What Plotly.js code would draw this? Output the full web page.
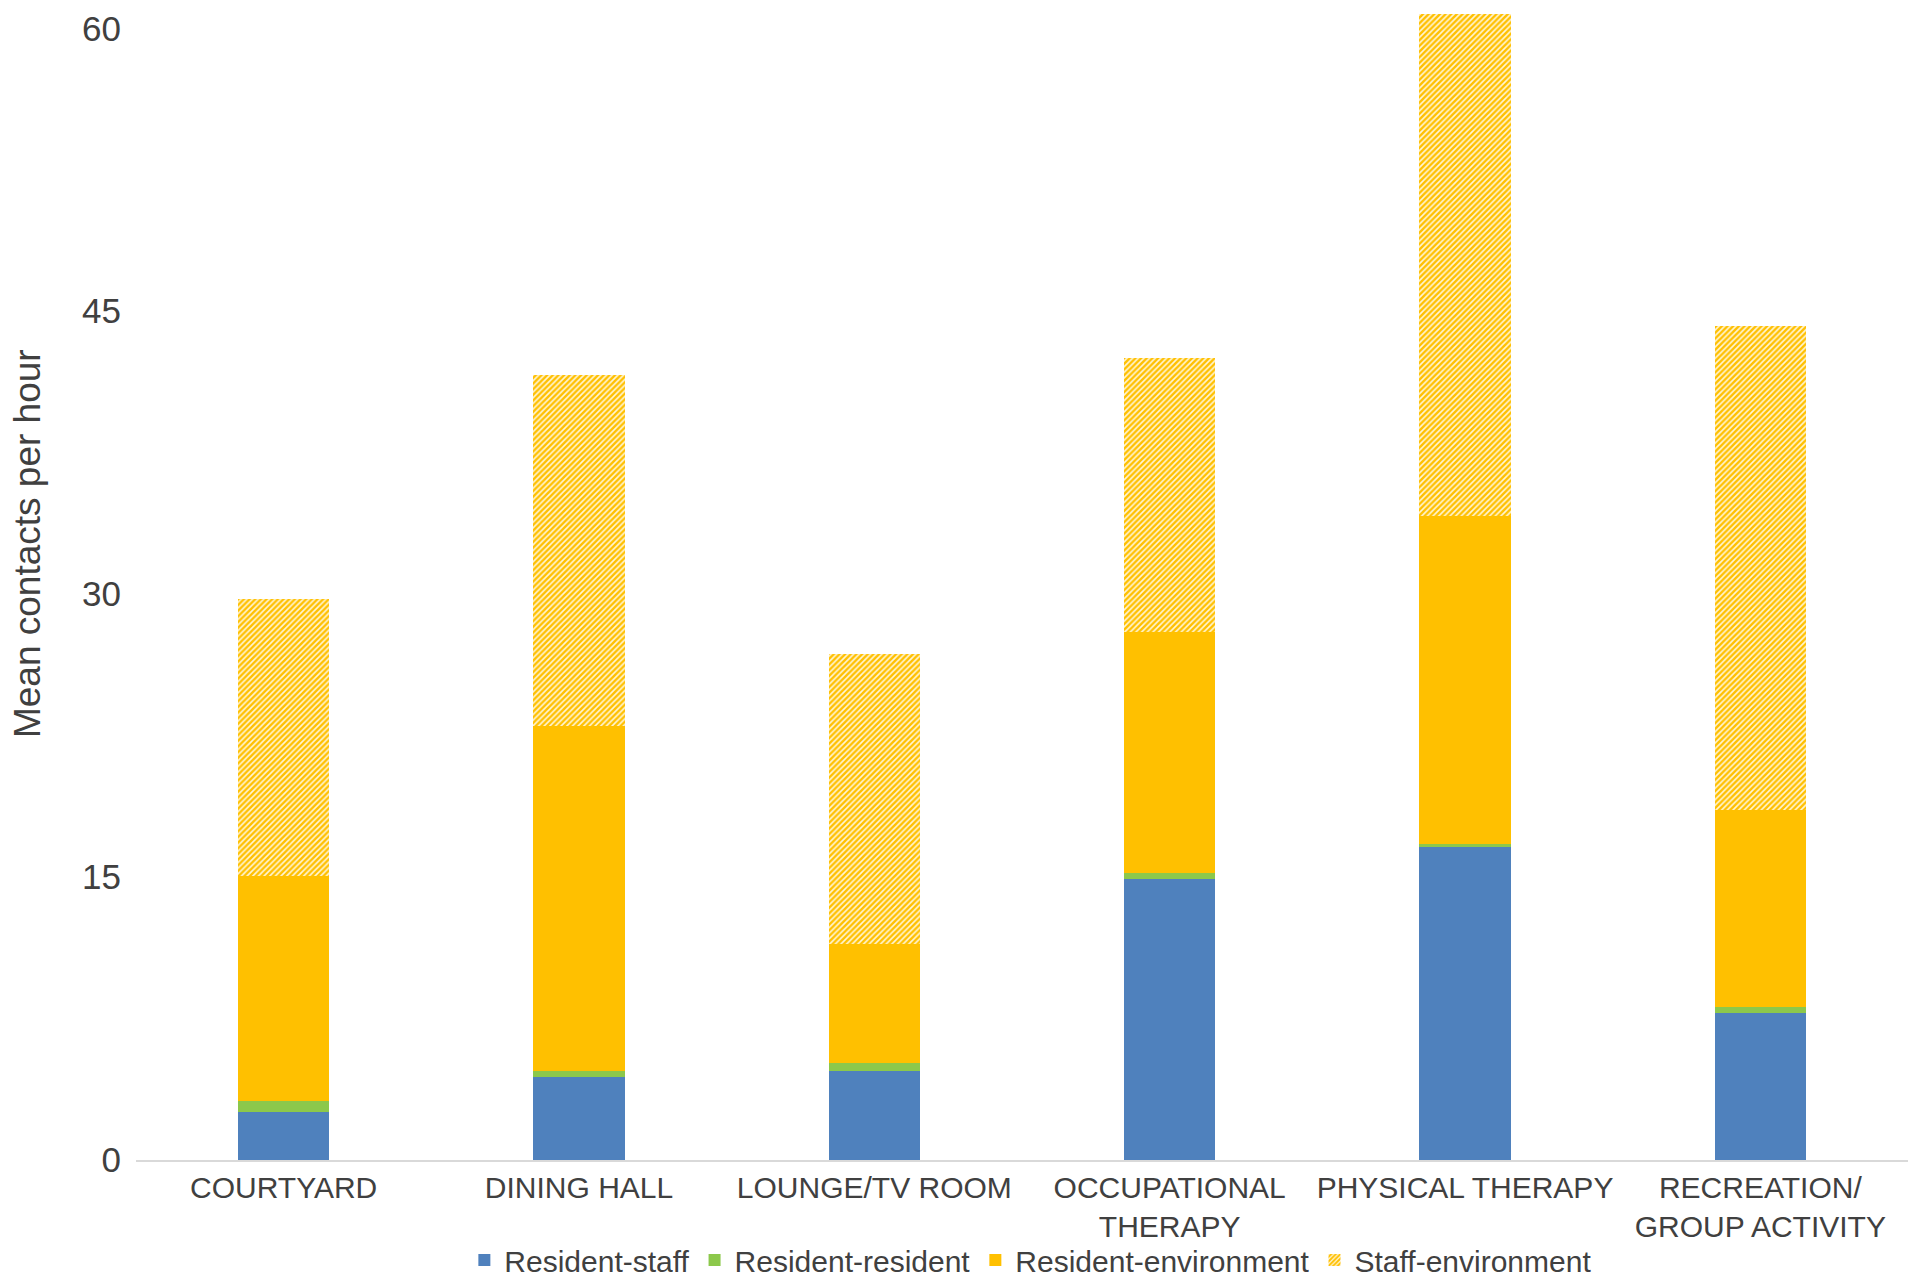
<!DOCTYPE html>
<html>
<head>
<meta charset="utf-8">
<script src="https://cdn.plot.ly/plotly-3.0.1.min.js"></script>
<style>
  html, body { margin: 0; padding: 0; background: #ffffff; }
  #chart { width: 1920px; height: 1286px; }
</style>
</head>
<body>
<div id="chart"></div>
<script>
const categories = [
  "COURTYARD",
  "DINING HALL",
  "LOUNGE/TV ROOM",
  "OCCUPATIONAL<br>THERAPY",
  "PHYSICAL THERAPY",
  "RECREATION/<br>GROUP ACTIVITY"
];
const residentStaff       = [2.55, 4.4, 4.7, 14.9, 16.6, 7.8];
const residentResident    = [0.6, 0.3, 0.45, 0.3, 0.15, 0.3];
const residentEnvironment = [11.9, 18.3, 6.3, 12.8, 17.4, 10.45];
const staffEnvironment    = [14.7, 18.6, 15.4, 14.5, 26.6, 25.65];
const yTicks = [0, 15, 30, 45, 60];
const yTitle = 'Mean contacts per hour';

const FONT = '"Liberation Sans", Arial, sans-serif';

const traces = [
  { name: 'Resident-staff', y: residentStaff, marker: { color: '#4F81BD' } },
  { name: 'Resident-resident', y: residentResident, marker: { color: '#8CC84B' } },
  { name: 'Resident-environment', y: residentEnvironment, marker: { color: '#FFC000' } },
  { name: 'Staff-environment', y: staffEnvironment,
    marker: { color: '#FFC000', pattern: { shape: '/', fgcolor: '#FFC000', bgcolor: '#FFF6D8', size: 4, solidity: 0.6 } } }
].map(t => Object.assign({
  type: 'bar',
  x: categories,
  hoverinfo: 'skip'
}, t, { marker: Object.assign({ line: { width: 0 } }, t.marker) }));

const layout = {
  width: 1920,
  height: 1286,
  barmode: 'stack',
  bargap: 0.69,
  paper_bgcolor: '#ffffff',
  plot_bgcolor: '#ffffff',
  margin: { l: 136, r: 12, t: 0, b: 125 },
  font: { family: FONT, color: '#404040' },
  xaxis: {
    type: 'category',
    showline: true,
    linecolor: '#D9D9D9',
    linewidth: 2,
    ticks: '',
    showgrid: false,
    tickfont: { family: FONT, size: 30, color: '#404040' },
    automargin: false
  },
  yaxis: {
    range: [0, 61.5],
    tickvals: yTicks,
    ticktext: yTicks.map(String),
    showgrid: false,
    zeroline: false,
    showline: false,
    ticks: '',
    ticklabelstandoff: 14,
    tickfont: { family: FONT, size: 35, color: '#404040' },
    automargin: false
  },
  annotations: [{
    text: yTitle,
    textangle: -90,
    xref: 'paper', yref: 'paper',
    x: -0.0615, xanchor: 'center',
    y: 0.531, yanchor: 'middle',
    showarrow: false,
    font: { family: FONT, size: 37, color: '#404040' }
  }],
  showlegend: true,
  legend: {
    orientation: 'h',
    x: 0.505,
    xanchor: 'center',
    y: -0.086,
    yanchor: 'middle',
    font: { family: FONT, size: 30, color: '#404040' },
    traceorder: 'normal',
    itemclick: false,
    bgcolor: 'rgba(0,0,0,0)'
  }
};

Plotly.newPlot('chart', traces, layout, { displayModeBar: false, staticPlot: true });
</script>
</body>
</html>
